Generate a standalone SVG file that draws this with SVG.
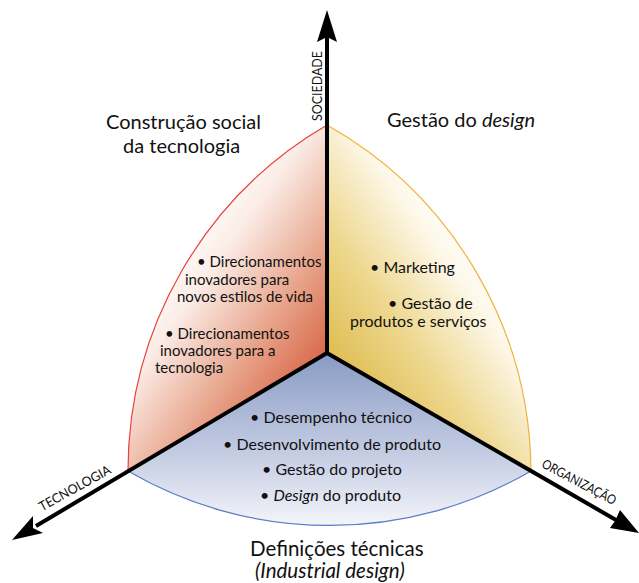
<svg xmlns="http://www.w3.org/2000/svg" width="639" height="583" viewBox="0 0 639 583">
  <defs>
    <linearGradient id="gradSocial" gradientUnits="userSpaceOnUse" x1="327" y1="353" x2="172" y2="243">
      <stop offset="0" stop-color="#d9694a"/>
      <stop offset="0.35" stop-color="#e8a68d"/>
      <stop offset="0.75" stop-color="#fbece6"/>
      <stop offset="1" stop-color="#ffffff"/>
    </linearGradient>
    <linearGradient id="gradGestao" gradientUnits="userSpaceOnUse" x1="327" y1="353" x2="482" y2="243">
      <stop offset="0" stop-color="#dfbd52"/>
      <stop offset="0.4" stop-color="#eed890"/>
      <stop offset="0.8" stop-color="#fdf8ea"/>
      <stop offset="1" stop-color="#ffffff"/>
    </linearGradient>
    <linearGradient id="gradTecnicas" gradientUnits="userSpaceOnUse" x1="0" y1="355" x2="0" y2="525">
      <stop offset="0" stop-color="#8a9cc5"/>
      <stop offset="0.6" stop-color="#c6cee4"/>
      <stop offset="1" stop-color="#f4f5fa"/>
    </linearGradient>
    <style>
      .arc { fill: none; stroke-width: 1.2; }
      .axis { stroke: #000; stroke-width: 4; fill: none; stroke-linecap: butt; }
      .head { fill: #000; }
      .title { font-family: Lato, "Open Sans", sans-serif; font-size: 20px; fill: #111; }
      .item { font-family: Lato, "Open Sans", sans-serif; font-size: 16px; fill: #111; }
      .item.small { font-size: 15px; }
      .axislabel { font-family: Lato, "Open Sans", sans-serif; font-size: 13px; fill: #111; }
      .it { font-style: italic; }
    </style>
  </defs>

  <rect width="639" height="583" fill="#ffffff"/>

  <!-- Sector: Construção social da tecnologia -->
  <g id="sector-social">
    <path d="M327 353 L327 125 A401 401 0 0 0 128 471 Z" fill="url(#gradSocial)"/>
    <path class="arc" d="M327 125 A401 401 0 0 0 128 471" stroke="#e8403a"/>
    <text class="title" x="106" y="129">Construção social</text>
    <text class="title" x="123" y="153">da tecnologia</text>
    <text class="item small" x="197" y="267">• Direcionamentos</text>
    <text class="item small" x="185" y="285">inovadores para</text>
    <text class="item small" x="177" y="302">novos estilos de vida</text>
    <text class="item small" x="165" y="339">• Direcionamentos</text>
    <text class="item small" x="160" y="356">inovadores para a</text>
    <text class="item small" x="155" y="373">tecnologia</text>
  </g>

  <!-- Sector: Gestão do design -->
  <g id="sector-gestao">
    <path d="M327 353 L531 471 A401 401 0 0 0 327 125 Z" fill="url(#gradGestao)"/>
    <path class="arc" d="M531 471 A401 401 0 0 0 327 125" stroke="#f2b13a"/>
    <text class="title" x="387" y="127">Gestão do <tspan class="it">design</tspan></text>
    <text class="item" x="370" y="273">• Marketing</text>
    <text class="item" x="388" y="309">• Gestão de</text>
    <text class="item" x="350" y="327">produtos e serviços</text>
  </g>

  <!-- Sector: Definições técnicas -->
  <g id="sector-tecnicas">
    <path d="M327 353 L128 471 A400 400 0 0 0 531 471 Z" fill="url(#gradTecnicas)"/>
    <path class="arc" d="M128 471 A400 400 0 0 0 531 471" stroke="#5b7cc8"/>
    <text class="item" x="250" y="423">• Desempenho técnico</text>
    <text class="item" x="223" y="450">• Desenvolvimento de produto</text>
    <text class="item" x="262" y="475">• Gestão do projeto</text>
    <text class="item" x="260" y="501">• <tspan class="it">Design</tspan> do produto</text>
    <text class="title" x="250" y="556" style="font-size:20.5px">Definições técnicas</text>
    <text class="title it" x="255" y="578" style="font-size:20.5px">(Industrial design)</text>
  </g>

  <!-- Axes -->
  <g id="connectors">
    <line class="axis" x1="327" y1="353" x2="327" y2="36"/>
    <line class="axis" x1="327" y1="353" x2="36" y2="526"/>
    <line class="axis" x1="327" y1="353" x2="616" y2="520"/>
    <polygon class="head" points="327,10 337,42 327,37 317,42"/>
    <polygon class="head" points="12,540 33,516 33,528 43,533"/>
    <polygon class="head" points="639,533 620,510 615,521 610,528"/>
    <text class="axislabel" transform="translate(322 86) rotate(-90)" text-anchor="middle" textLength="70" lengthAdjust="spacingAndGlyphs">SOCIEDADE</text>
    <text class="axislabel" transform="translate(77 492) rotate(-29)" text-anchor="middle" textLength="80" lengthAdjust="spacingAndGlyphs">TECNOLOGIA</text>
    <text class="axislabel" transform="translate(577 486) rotate(28)" text-anchor="middle" textLength="82" lengthAdjust="spacingAndGlyphs">ORGANIZAÇÃO</text>
  </g>
</svg>
